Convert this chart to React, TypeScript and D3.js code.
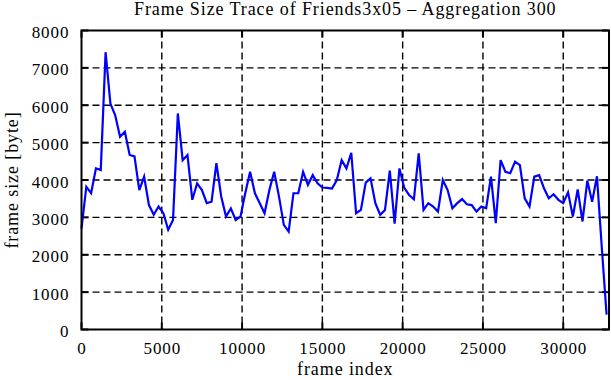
import * as d3 from 'd3';

const MARGIN = { top: 30.5, right: 2, bottom: 50.5, left: 81.5 };
const WIDTH = 611;
const HEIGHT = 380;

const TITLE = 'Frame Size Trace of Friends3x05 – Aggregation 300';
const X_LABEL = 'frame index';
const Y_LABEL = 'frame size [byte]';

// one point every 300 frames
const AGGREGATION = 300;
const X_MAX = 32850;
const X_TICKS = [0, 5000, 10000, 15000, 20000, 25000, 30000];
const Y_TICKS = [0, 1000, 2000, 3000, 4000, 5000, 6000, 7000, 8000];

const frameSizes = [
  2700, 3820, 3650, 4310, 4270, 7420, 6045, 5730, 5155, 5290,
  4670, 4630, 3730, 4090, 3330, 3070, 3290, 3110, 2670, 2930,
  5780, 4530, 4670, 3470, 3910, 3730, 3380, 3420, 4450, 3560,
  3020, 3240, 2930, 3020, 3650, 4220, 3645, 3380, 3110, 3730,
  4220, 3555, 2800, 2620, 3645, 3645, 4220, 3870, 4130, 3910,
  3800, 3790, 3770, 4000, 4530, 4310, 4730, 3110, 3200, 3930,
  4045, 3380, 3070, 3200, 4250, 2830, 4310, 3790, 3600, 3485,
  4710, 3200, 3380, 3290, 3155, 4000, 3730, 3245, 3380, 3490,
  3350, 3330, 3155, 3290, 3245, 4090, 2845, 4530, 4220, 4180,
  4490, 4400, 3510, 3290, 4090, 4130, 3780, 3510, 3620, 3470,
  3380, 3670, 3020, 3750, 2890, 3980, 3420, 4100, 2200, 400,
];

const FONT = '"Liberation Serif", "Times New Roman", serif';

const App = () => {
  const boundsWidth = WIDTH - MARGIN.left - MARGIN.right;
  const boundsHeight = HEIGHT - MARGIN.top - MARGIN.bottom;

  const xScale = d3.scaleLinear().domain([0, X_MAX]).range([0, boundsWidth]);
  const yScale = d3.scaleLinear().domain([0, 8000]).range([boundsHeight, 0]);

  const linePath = d3
    .line<number>()
    .x((d, i) => xScale(i * AGGREGATION))
    .y((d) => yScale(d))(frameSizes);

  const tickLen = 7;

  return (
    <svg
      width={WIDTH}
      height={HEIGHT}
      style={{ position: 'absolute', left: 0, top: 0, background: '#fff' }}
      fontFamily={FONT}
    >
      <text
        x={MARGIN.left + boundsWidth / 2}
        y={15}
        textAnchor="middle"
        fontSize={18}
        letterSpacing={0.9}
      >
        {TITLE}
      </text>
      <g transform={`translate(${MARGIN.left},${MARGIN.top})`}>
        {/* grid */}
        {Y_TICKS.slice(1, -1).map((t) => (
          <line
            key={'gy' + t}
            x1={0}
            x2={boundsWidth}
            y1={yScale(t)}
            y2={yScale(t)}
            stroke="#000"
            strokeWidth={1.4}
            strokeDasharray="7,4"
          />
        ))}
        {X_TICKS.slice(1).map((t) => (
          <line
            key={'gx' + t}
            x1={xScale(t)}
            x2={xScale(t)}
            y1={0}
            y2={boundsHeight}
            stroke="#000"
            strokeWidth={1.4}
            strokeDasharray="7,4"
          />
        ))}
        {/* ticks, mirrored */}
        {Y_TICKS.map((t) => (
          <g key={'ty' + t}>
            <line x1={0} x2={tickLen} y1={yScale(t)} y2={yScale(t)} stroke="#000" strokeWidth={2} />
            <line
              x1={boundsWidth - tickLen}
              x2={boundsWidth}
              y1={yScale(t)}
              y2={yScale(t)}
              stroke="#000"
              strokeWidth={2}
            />
            <text
              x={-12.2}
              y={yScale(t) + 7.6}
              textAnchor="end"
              fontSize={17}
              letterSpacing={0.9}
            >
              {t}
            </text>
          </g>
        ))}
        {X_TICKS.map((t) => (
          <g key={'tx' + t}>
            <line
              x1={xScale(t)}
              x2={xScale(t)}
              y1={boundsHeight}
              y2={boundsHeight - tickLen}
              stroke="#000"
              strokeWidth={2}
            />
            <line x1={xScale(t)} x2={xScale(t)} y1={0} y2={tickLen} stroke="#000" strokeWidth={2} />
            <text
              x={xScale(t) + 0.5}
              y={boundsHeight + 24.5}
              textAnchor="middle"
              fontSize={17}
              letterSpacing={0.9}
            >
              {t}
            </text>
          </g>
        ))}
        <path
          d={linePath || ''}
          fill="none"
          stroke="#0000ff"
          strokeWidth={2.2}
          strokeLinejoin="miter"
        />
        <rect
          x={0}
          y={0}
          width={boundsWidth}
          height={boundsHeight}
          fill="none"
          stroke="#000"
          strokeWidth={2}
        />
      </g>
      <text
        x={MARGIN.left + boundsWidth / 2}
        y={375}
        textAnchor="middle"
        fontSize={18}
        letterSpacing={0.9}
      >
        {X_LABEL}
      </text>
      <text
        transform={`translate(18,${MARGIN.top + boundsHeight / 2}) rotate(-90)`}
        textAnchor="middle"
        fontSize={18}
        letterSpacing={0.9}
      >
        {Y_LABEL}
      </text>
    </svg>
  );
};

export default App;
